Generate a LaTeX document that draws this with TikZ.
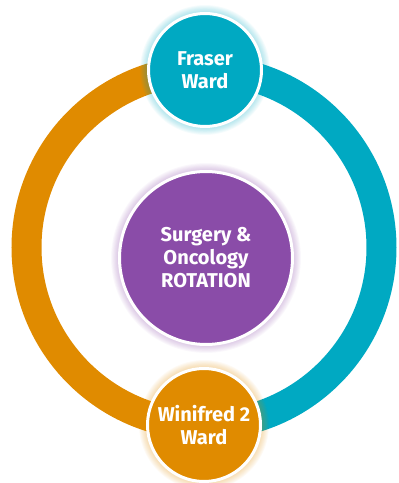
\documentclass[tikz,border=0pt]{standalone}
\usepackage{fontspec}
\setmainfont{Fira Sans}
\usetikzlibrary{calc}

\definecolor{wardteal}{HTML}{00A9C2}
\definecolor{wardorange}{HTML}{E08B00}
\definecolor{rotpurple}{HTML}{8A4CA8}

\tikzset{
  wardnode/.style={circle, draw=white, line width=3pt, inner sep=0pt,
    text=white, align=center, font=\bfseries\fontsize{20}{23}\selectfont},
}

\begin{document}
\begin{tikzpicture}[x=1pt,y=1pt]
            \useasboundingbox (0,0) rectangle (399,483);
            \coordinate (centre) at (204,235.5);

            \draw[wardorange, line width=30pt] ($(centre)+(90:177.5)$) arc (90:270:177.5);
            \draw[wardteal, line width=30pt] ($(centre)+(-90:177.5)$) arc (-90:90:177.5);

            % soft glow round the circles
            \foreach \r in {1,...,10} {
                \fill[wardteal, opacity=0.035] (205,413) circle (57+0.8*\r);
                \fill[wardorange, opacity=0.035] (204,58) circle (57+0.8*\r);
                \fill[rotpurple, opacity=0.035] (206,225) circle (87+0.8*\r);
            }

            \node[wardnode, fill=wardteal, minimum size=113pt] (fraser) at (205,413) {Fraser\\Ward};
            \node[wardnode, fill=wardorange, minimum size=113pt] (winifred) at (204,58) {Winifred 2\\Ward};
            \node[wardnode, fill=rotpurple, minimum size=173pt] (rotation) at (206,225) {Surgery \&\\Oncology\\ROTATION};
        \end{tikzpicture}
\end{document}
